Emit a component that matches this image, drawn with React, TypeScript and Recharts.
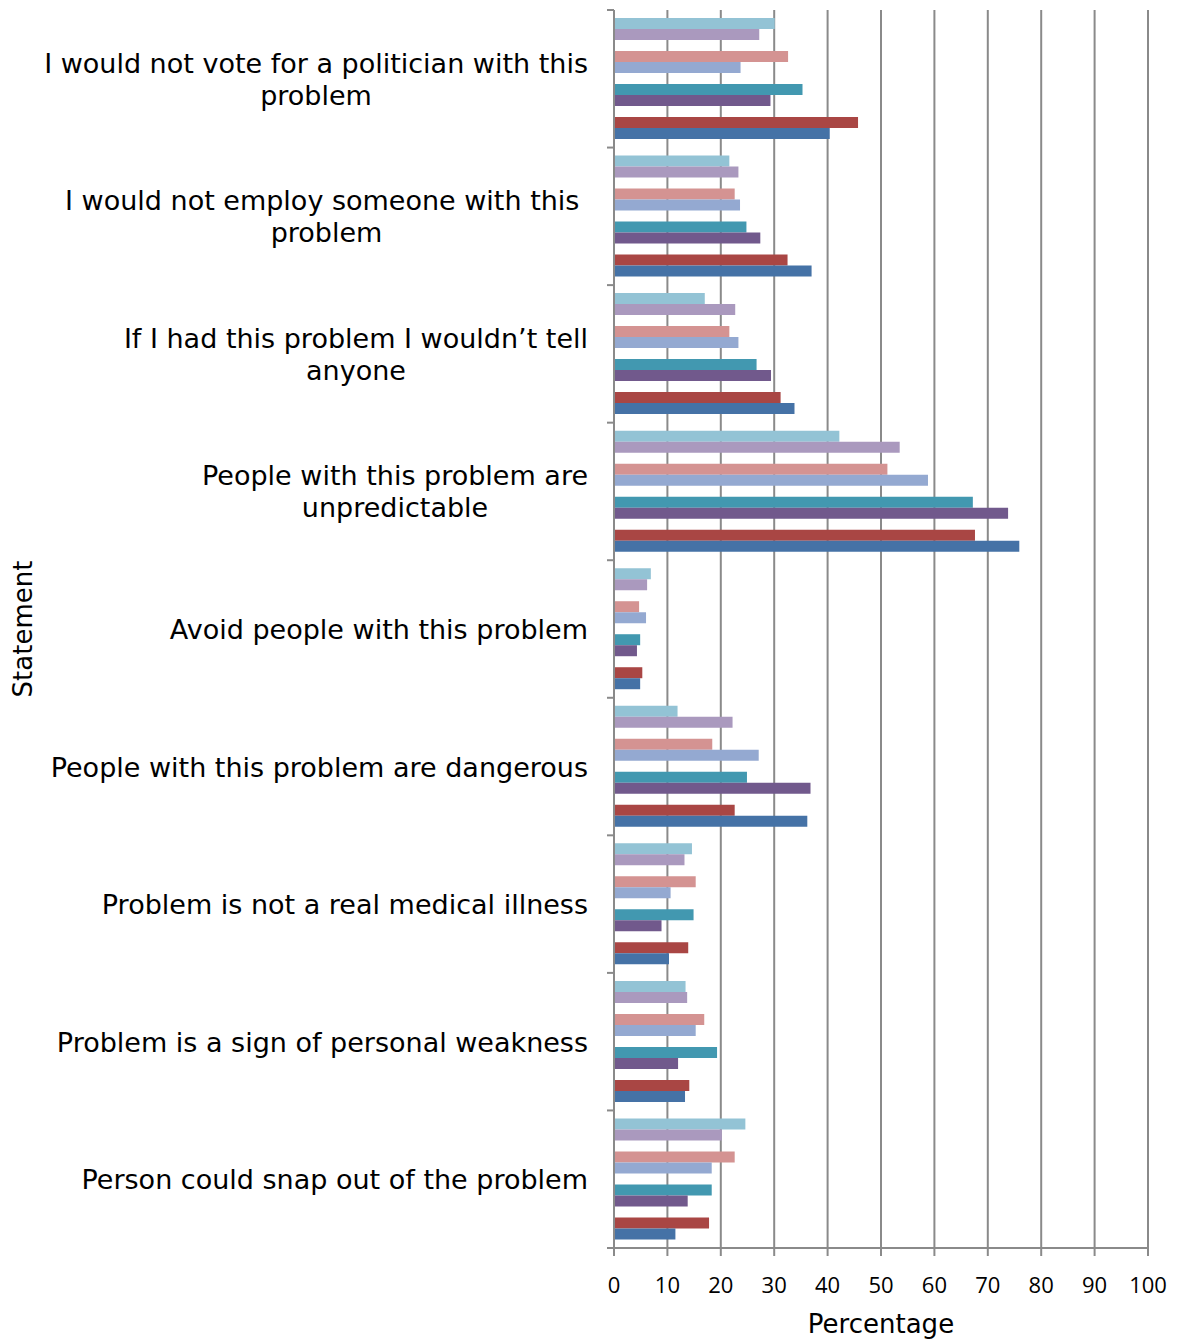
import { BarChart, Bar, XAxis, YAxis, CartesianGrid } from 'recharts';

// Statements asked about, top to bottom
const CATEGORIES = [
  'I would not vote for a politician with this problem',
  'I would not employ someone with this problem',
  'If I had this problem I wouldn’t tell anyone',
  'People with this problem are unpredictable',
  'Avoid people with this problem',
  'People with this problem are dangerous',
  'Problem is not a real medical illness',
  'Problem is a sign of personal weakness',
  'Person could snap out of the problem',
];

// How each statement wraps on the axis
const LABEL_LINES = [
  ['I would not vote for a politician with this', 'problem'],
  ['I would not employ someone with this ', 'problem'],
  ['If I had this problem I wouldn’t tell', 'anyone'],
  ['People with this problem are', 'unpredictable'],
  ['Avoid people with this problem'],
  ['People with this problem are dangerous'],
  ['Problem is not a real medical illness'],
  ['Problem is a sign of personal weakness'],
  ['Person could snap out of the problem'],
];

// Percentages, one list per series (in drawing order, top bar first)
const SERIES_1 = [30.1, 21.6, 17.0, 42.2, 6.9, 11.9, 14.6, 13.4, 24.6];
const SERIES_2 = [27.2, 23.3, 22.7, 53.5, 6.2, 22.2, 13.2, 13.7, 20.2];
const SERIES_3 = [32.6, 22.6, 21.6, 51.2, 4.7, 18.4, 15.3, 16.9, 22.6];
const SERIES_4 = [23.7, 23.6, 23.3, 58.8, 6.0, 27.1, 10.6, 15.3, 18.3];
const SERIES_5 = [35.3, 24.8, 26.7, 67.2, 4.9, 24.9, 14.9, 19.3, 18.3];
const SERIES_6 = [29.3, 27.4, 29.4, 73.8, 4.3, 36.8, 8.9, 12.0, 13.8];
const SERIES_7 = [45.7, 32.5, 31.2, 67.6, 5.3, 22.6, 13.9, 14.1, 17.8];
const SERIES_8 = [40.4, 37.0, 33.8, 75.9, 4.9, 36.2, 10.3, 13.3, 11.5];

const X_TICKS = [0, 10, 20, 30, 40, 50, 60, 70, 80, 90, 100];

const COLORS = ['#93c3d5', '#aa99be', '#d49392', '#94a9d1', '#4298b0', '#71598c', '#a94644', '#4572a6'];

const data = CATEGORIES.map((name, i) => ({
  name,
  s1: SERIES_1[i],
  s2: SERIES_2[i],
  s3: SERIES_3[i],
  s4: SERIES_4[i],
  s5: SERIES_5[i],
  s6: SERIES_6[i],
  s7: SERIES_7[i],
  s8: SERIES_8[i],
}));

const W = 1179;
const H = 1342;
const MARGIN = { top: 10, right: 31, bottom: 0, left: 0 };
const Y_AXIS_W = 614;
const X_AXIS_H = 94;
const PLOT_H = H - MARGIN.top - MARGIN.bottom - X_AXIS_H;
const BAND = PLOT_H / CATEGORIES.length;

const AXIS_COLOR = '#8a8a8a';
const LABEL_FONT = '"DejaVu Sans", Verdana, sans-serif';
const LABEL_SIZE = 27;
const LINE_H = 32;
const LABEL_RIGHT = 588;

const ctx = typeof document !== 'undefined' ? document.createElement('canvas').getContext('2d') : null;
function measure(s: string) {
  if (!ctx) return s.length * LABEL_SIZE * 0.5;
  ctx.font = `${LABEL_SIZE}px ${LABEL_FONT}`;
  return ctx.measureText(s).width;
}

function CategoryTick(props: any) {
  const { y, payload } = props;
  const idx = CATEGORIES.indexOf(payload.value);
  const lines = LABEL_LINES[idx] || [payload.value];
  const widths = lines.map(measure);
  const block = Math.max(...widths);
  const cx = LABEL_RIGHT - block / 2;
  const first = y - ((lines.length - 1) * LINE_H) / 2 + 10;
  const ax = Y_AXIS_W;
  return (
    <g>
      <line x1={ax - 7} x2={ax} y1={y - BAND / 2} y2={y - BAND / 2} stroke={AXIS_COLOR} strokeWidth={2} />
      {idx === CATEGORIES.length - 1 && (
        <line x1={ax - 7} x2={ax} y1={y + BAND / 2} y2={y + BAND / 2} stroke={AXIS_COLOR} strokeWidth={2} />
      )}
      {lines.map((l, i) => (
        <text
          key={i}
          x={cx - widths[i] / 2}
          y={first + i * LINE_H}
          textAnchor="start"
          fontFamily={LABEL_FONT}
          fontSize={LABEL_SIZE}
          fill="#000"
        >
          {l.trimEnd()}
        </text>
      ))}
    </g>
  );
}

const YTitle = (props: any) => {
  const vb = props.viewBox || { x: 0, y: 0, width: 0, height: 0 };
  const x = vb.x + 32;
  const y = vb.y + vb.height / 2;
  return (
    <text x={x} y={y} transform={`rotate(-90 ${x} ${y})`} textAnchor="middle" fontFamily={LABEL_FONT} fontSize={26} fill="#000">
      Statement
    </text>
  );
};

const XTitle = (props: any) => {
  const vb = props.viewBox || { x: 0, y: 0, width: 0, height: 0 };
  return (
    <text x={vb.x + vb.width / 2} y={vb.y + 85} textAnchor="middle" fontFamily={LABEL_FONT} fontSize={26} fill="#000">
      Percentage
    </text>
  );
};

const SERIES_KEYS = ['s1', 's2', 's3', 's4', 's5', 's6', 's7', 's8'];

export default function App() {
  // bars come in pairs with an empty slot between each pair
  const bars: any[] = [];
  SERIES_KEYS.forEach((key, i) => {
    bars.push(<Bar key={key} dataKey={key} fill={COLORS[i]} isAnimationActive={false} />);
    if (i % 2 === 1 && i < SERIES_KEYS.length - 1) {
      bars.push(<Bar key={`gap${i}`} dataKey={`gap${i}`} fill="none" isAnimationActive={false} legendType="none" />);
    }
  });

  return (
    <div style={{ position: 'absolute', left: 0, top: 0, width: W, height: H, background: '#fff' }}>
      <BarChart width={W} height={H} data={data} layout="vertical" margin={MARGIN} barSize={11} barGap={0}>
        <CartesianGrid horizontal={false} stroke={AXIS_COLOR} strokeWidth={2} />
        <XAxis
          type="number"
          domain={[0, 100]}
          ticks={X_TICKS}
          interval={0}
          height={X_AXIS_H}
          axisLine={{ stroke: AXIS_COLOR, strokeWidth: 2 }}
          tickLine={{ stroke: AXIS_COLOR, strokeWidth: 2 }}
          tickSize={8}
          tickMargin={21}
          tick={{ fontFamily: '"Open Sans", sans-serif', fontSize: 22, fill: '#000' }}
          label={{ content: XTitle }}
        />
        <YAxis
          type="category"
          dataKey="name"
          width={Y_AXIS_W}
          interval={0}
          axisLine={{ stroke: AXIS_COLOR, strokeWidth: 2 }}
          tickLine={false}
          tick={CategoryTick}
          label={{ content: YTitle }}
        />
        {bars}
      </BarChart>
    </div>
  );
}
